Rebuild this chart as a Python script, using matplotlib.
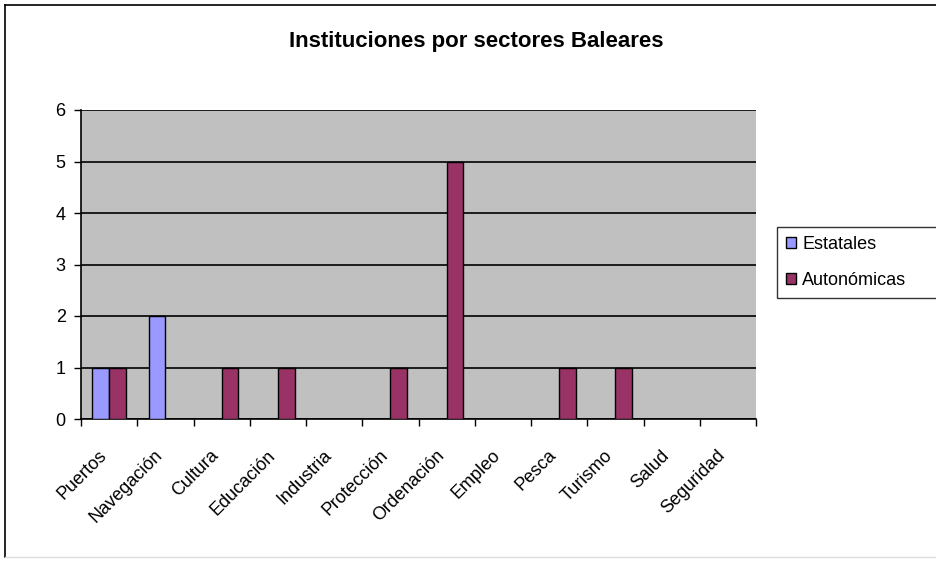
import matplotlib
matplotlib.use("Agg")
import matplotlib.pyplot as plt
import numpy as np
from matplotlib.patches import Rectangle
from matplotlib.lines import Line2D
import matplotlib.transforms as mtransforms

categories = ["Puertos", "Navegación", "Cultura", "Educación", "Industria", "Protección",
              "Ordenación", "Empleo", "Pesca", "Turismo", "Salud", "Seguridad"]
estatales = [1, 2, 0, 0, 0, 0, 0, 0, 0, 0, 0, 0]
autonomicas = [1, 0, 1, 1, 0, 1, 5, 0, 1, 1, 0, 0]
series_names = ["Estatales", "Autonómicas"]
colors = ["#9999FF", "#993366"]

plt.rcParams['font.family'] = ['Liberation Sans', 'DejaVu Sans']

fig = plt.figure(figsize=(9.36, 5.62), dpi=100)
ax = fig.add_axes([81/936, 1-419/562, (756-81)/936, (419-110)/562])
ax.set_facecolor("#C0C0C0")

x = np.arange(len(categories))
w = 0.296
for vals, name, c, off in [(estatales, series_names[0], colors[0], -w/2),
                           (autonomicas, series_names[1], colors[1], w/2)]:
    v = np.array(vals, dtype=float)
    mask = v > 0
    ax.bar(x[mask] + off, v[mask], width=w, color=c, edgecolor="black", linewidth=1.0,
           label=name, zorder=3)

ax.set_xlim(-0.5, len(categories) - 0.5)
ax.set_ylim(0, 6)
ax.set_yticks(range(0, 7))
ax.yaxis.grid(True, color="black", linewidth=1.2, zorder=1)
ax.set_axisbelow(True)
for s in ["top", "right"]:
    ax.spines[s].set_visible(False)
ax.spines["left"].set_linewidth(1.2)
ax.spines["bottom"].set_linewidth(1.2)
ax.tick_params(axis="y", direction="out", length=5, width=1, labelsize=13, pad=6)
ax.set_xticks(np.arange(len(categories) + 1) - 0.5)
ax.set_xticklabels([])
ax.tick_params(axis="x", direction="out", length=5, width=1)

trans = mtransforms.blended_transform_factory(ax.transData, ax.transAxes)
for i, lab in enumerate(categories):
    ax.text(i - 0.2, -0.09, lab, rotation=45, ha="right", va="top",
            rotation_mode="anchor", fontsize=13, transform=trans,
            clip_on=False)

fig.text(476/936, 1-41/562, "Instituciones por sectores Baleares", ha="center", va="center",
         fontsize=16, fontweight="bold")

handles = [Rectangle((0, 0), 1, 1, facecolor=c, edgecolor="black", linewidth=1) for c in colors]
leg = fig.legend(handles, series_names, loc="upper left",
                 bbox_to_anchor=(777/936, 1-302/562, 200/936, 75/562), mode="expand",
                 fontsize=13,
                 frameon=True, fancybox=False, edgecolor="black",
                 handlelength=0.55, handleheight=0.55, handletextpad=0.35,
                 borderpad=0.5, labelspacing=1.05, borderaxespad=0)
leg.get_frame().set_linewidth(1.0)

# outer chart border
fig.add_artist(Line2D([5/936, 5/936], [1-5/562, 1-557/562], color="black", linewidth=1.2))
fig.add_artist(Line2D([5/936, 1], [1-5/562, 1-5/562], color="black", linewidth=1.2))
fig.add_artist(Line2D([5/936, 1], [1-557/562, 1-557/562], color="#DDDDDD", linewidth=1.0))

fig.savefig("out.png", dpi=100, facecolor="white")
